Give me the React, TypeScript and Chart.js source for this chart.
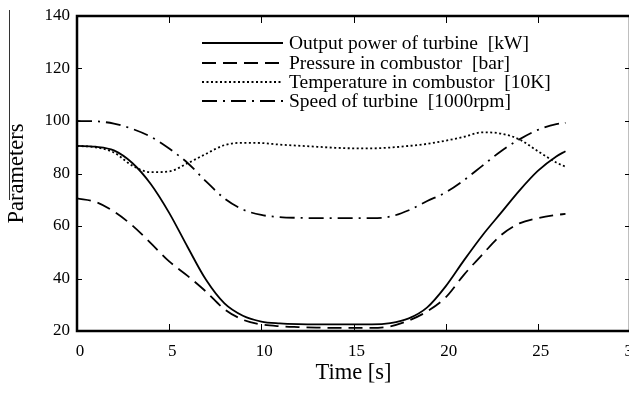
import React, { useEffect, useRef } from "react";
import { Chart, registerables } from "chart.js";

Chart.register(...registerables);

// ---------- data ----------
const TIME = [0, 1, 2, 3, 4, 5, 6, 7, 8, 9, 10, 11, 12, 13, 14, 15, 16, 17, 18, 19, 20, 21, 22, 23, 24, 25, 26, 26.5];

const OUTPUT_POWER = [90.5, 90.2, 88.8, 84, 76, 65, 52, 39.5, 30.5, 25.8, 23.6, 22.9, 22.6, 22.5, 22.5, 22.5, 22.5, 23, 24.8, 29, 37, 47, 56.5, 65, 73.5, 81, 86.5, 88.5];
const PRESSURE = [70.5, 69.2, 65.5, 60.2, 53.5, 46.5, 41, 35, 28.3, 24.3, 22.5, 21.8, 21.5, 21.3, 21.2, 21.2, 21.2, 21.8, 24, 27.5, 32.8, 41.5, 49.2, 56.5, 61, 63, 64.2, 64.6];
const TEMPERATURE = [90.5, 90, 88, 83, 80.5, 80.8, 83.9, 87.5, 90.8, 91.7, 91.6, 91, 90.6, 90.2, 89.8, 89.6, 89.6, 89.9, 90.5, 91.3, 92.5, 94, 95.7, 95.2, 93, 88.5, 84.2, 82.6];
const SPEED = [100, 99.9, 99, 97, 94, 89.5, 84, 77, 70.5, 66.3, 64.2, 63.4, 63.1, 63, 63, 63, 63, 63.6, 66, 69.5, 72.8, 77.5, 83, 88.5, 93, 96.6, 98.8, 99.3];

const SERIES_LABELS = [
  "Output power of turbine  [kW]",
  "Pressure in combustor  [bar]",
  "Temperature in combustor  [10K]",
  "Speed of turbine  [1000rpm]",
];

const X_TICKS = [0, 5, 10, 15, 20, 25, 30];
const Y_TICKS = [20, 40, 60, 80, 100, 120, 140];
const X_TITLE = "Time [s]";
const Y_TITLE = "Parameters";

const FONT = "'Liberation Serif', 'Times New Roman', serif";

const toPoints = (ys: number[]) => TIME.map((t, i) => ({ x: t, y: ys[i] }));

const framePlugin = {
  id: "frame",
  afterDatasetsDraw(chart: any) {
    const { ctx, chartArea: a, scales } = chart;
    const xs = scales.x;
    const ys = scales.y;
    ctx.save();
    ctx.strokeStyle = "#000";
    ctx.setLineDash([]);

    // frame
    ctx.lineWidth = 2.5;
    ctx.beginPath();
    ctx.moveTo(a.left, a.top);
    ctx.lineTo(a.right, a.top);
    ctx.lineTo(a.right, a.bottom);
    ctx.lineTo(a.left, a.bottom);
    ctx.closePath();
    ctx.stroke();

    // inward ticks
    ctx.lineWidth = 1;
    ctx.beginPath();
    X_TICKS.forEach((v) => {
      if (v <= xs.min || v >= xs.max) return;
      const px = Math.round(xs.getPixelForValue(v)) + 0.5;
      ctx.moveTo(px, a.bottom);
      ctx.lineTo(px, a.bottom - 7);
      ctx.moveTo(px, a.top);
      ctx.lineTo(px, a.top + 7);
    });
    Y_TICKS.forEach((v) => {
      if (v <= ys.min || v >= ys.max) return;
      const py = Math.round(ys.getPixelForValue(v)) + 0.5;
      ctx.moveTo(a.left, py);
      ctx.lineTo(a.left + 5, py);
      ctx.moveTo(a.right, py);
      ctx.lineTo(a.right - 5, py);
    });
    ctx.stroke();

    // legend drawn inside the plot
    const rowY = [43, 63, 82, 101];
    const x0 = 202;
    const x1 = 283;
    ctx.font = `19.5px ${FONT}`;
    ctx.fillStyle = "#000";
    ctx.textBaseline = "middle";
    ctx.textAlign = "left";
    chart.data.datasets.forEach((ds: any, i: number) => {
      const y = rowY[i];
      ctx.save();
      ctx.lineWidth = ds.borderWidth;
      ctx.setLineDash(ds.borderDash || []);
      ctx.beginPath();
      ctx.moveTo(x0, y);
      ctx.lineTo(x1, y);
      ctx.stroke();
      ctx.restore();
      ctx.fillText(ds.label, 289, y + 1);
    });

    // thin line beside the y-axis title (as in the reference scan)
    ctx.lineWidth = 1;
    ctx.strokeStyle = "#333";
    ctx.beginPath();
    ctx.moveTo(9.5, 10);
    ctx.lineTo(9.5, 200);
    ctx.stroke();

    ctx.restore();
  },
};

export default function App() {
  const canvasRef = useRef<HTMLCanvasElement | null>(null);

  useEffect(() => {
    const canvas = canvasRef.current;
    if (!canvas) return;
    const common = {
      borderColor: "#000",
      borderWidth: 1.8,
      pointRadius: 0,
      fill: false,
      cubicInterpolationMode: "monotone" as const,
    };
    const chart = new Chart(canvas, {
      type: "line",
      data: {
        datasets: [
          { ...common, label: SERIES_LABELS[0], data: toPoints(OUTPUT_POWER), borderDash: [] },
          { ...common, label: SERIES_LABELS[1], data: toPoints(PRESSURE), borderDash: [14, 7] },
          { ...common, label: SERIES_LABELS[2], data: toPoints(TEMPERATURE), borderDash: [2, 2.5] },
          { ...common, label: SERIES_LABELS[3], data: toPoints(SPEED), borderDash: [15, 6, 2, 6] },
        ],
      },
      options: {
        responsive: false,
        animation: false,
        devicePixelRatio: 1,
        layout: { padding: { top: 16, right: 10, left: 0, bottom: 0 } },
        plugins: {
          legend: { display: false },
          tooltip: { enabled: false },
        },
        scales: {
          x: {
            type: "linear",
            min: 0,
            max: 30,
            afterBuildTicks: (s: any) => {
              s.ticks = X_TICKS.map((v) => ({ value: v }));
            },
            afterFit: (s: any) => {
              s.height = 62;
              s.paddingLeft = 0;
              s.paddingRight = 0;
            },
            grid: { display: false, drawTicks: false },
            border: { display: false },
            ticks: {
              color: "#000",
              font: { family: FONT, size: 17 },
              padding: 10,
              labelOffset: 3,
              maxRotation: 0,
              autoSkip: false,
            },
            title: {
              display: true,
              text: X_TITLE,
              color: "#000",
              font: { family: FONT, size: 22.5 },
              padding: { top: 0, bottom: 6.5 },
            },
          },
          y: {
            type: "linear",
            min: 20,
            max: 140,
            afterBuildTicks: (s: any) => {
              s.ticks = Y_TICKS.map((v) => ({ value: v }));
            },
            afterFit: (s: any) => {
              s.width = 77;
              s.paddingTop = 0;
              s.paddingBottom = 0;
            },
            grid: { display: false, drawTicks: false },
            border: { display: false },
            ticks: {
              color: "#000",
              font: { family: FONT, size: 17 },
              padding: 7,
              autoSkip: false,
            },
            title: {
              display: true,
              text: Y_TITLE,
              color: "#000",
              font: { family: FONT, size: 22.5 },
              padding: { top: 4, bottom: 0 },
            },
          },
        },
      },
      plugins: [framePlugin],
    });
    return () => chart.destroy();
  }, []);

  return (
    <div
      style={{
        position: "fixed",
        left: 0,
        top: 0,
        width: 629,
        height: 393,
        overflow: "hidden",
        background: "#fff",
      }}
    >
      <canvas ref={canvasRef} width={640} height={393} style={{ display: "block" }} />
    </div>
  );
}
